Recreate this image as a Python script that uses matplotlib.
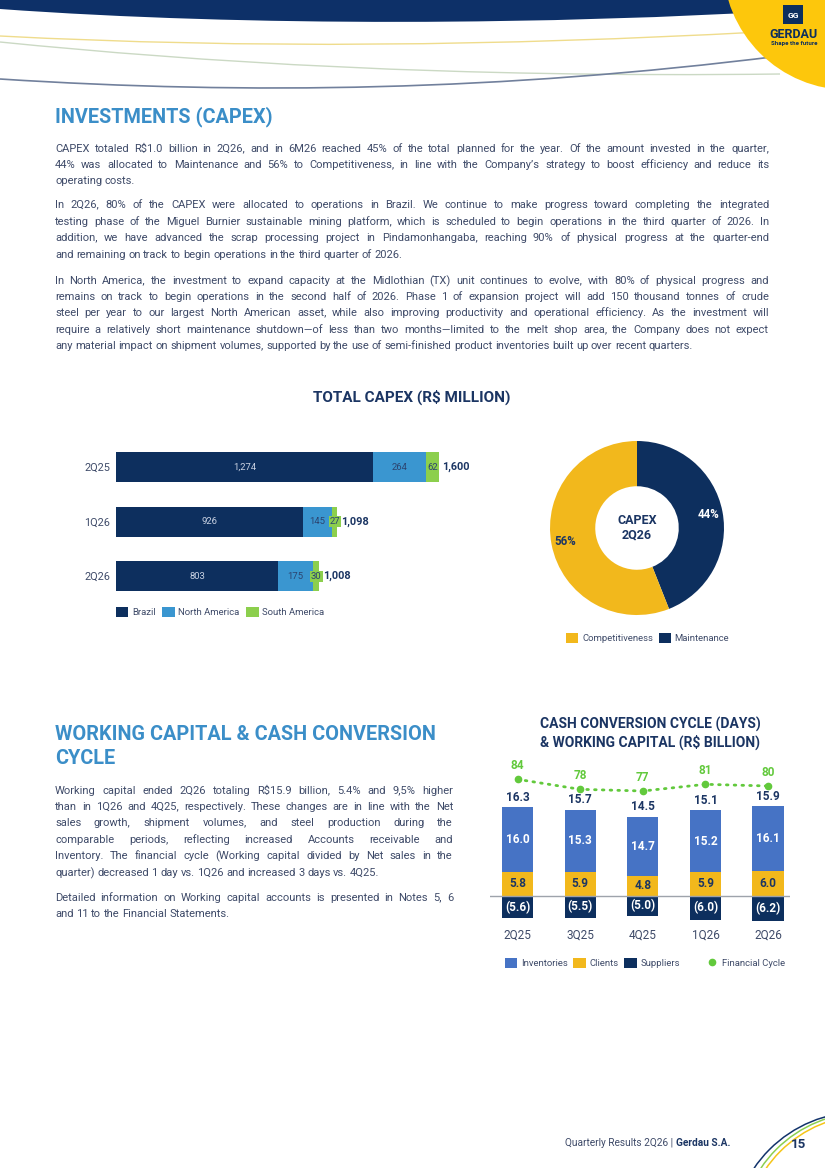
import math
import matplotlib.pyplot as plt
from matplotlib.patches import Circle, Rectangle, PathPatch
from matplotlib.path import Path
from matplotlib.lines import Line2D

W, H = 825, 1168

# ---- data ----
capex_periods = ['2Q25', '1Q26', '2Q26']
capex_brazil = [1274, 926, 803]
capex_north_america = [264, 145, 175]
capex_south_america = [62, 27, 30]
capex_totals = [1600, 1098, 1008]

split_labels = ['Maintenance', 'Competitiveness']
split_values = [44, 56]

wc_quarters = ['2Q25', '3Q25', '4Q25', '1Q26', '2Q26']
wc_inventories = [16.0, 15.3, 14.7, 15.2, 16.1]
wc_clients = [5.8, 5.9, 4.8, 5.9, 6.0]
wc_suppliers = [-5.6, -5.5, -5.0, -6.0, -6.2]
wc_totals = [16.3, 15.7, 14.5, 15.1, 15.9]
fin_cycle = [84, 78, 77, 81, 80]

para_capex = [
    ["CAPEX totaled R$1.0 billion in 2Q26, and in 6M26 reached 45% of the total planned for the year. Of the amount invested in the quarter,",
     "44% was allocated to Maintenance and 56% to Competitiveness, in line with the Company\u2019s strategy to boost efficiency and reduce its",
     "operating costs."],
    ["In 2Q26, 80% of the CAPEX were allocated to operations in Brazil. We continue to make progress toward completing the integrated",
     "testing phase of the Miguel Burnier sustainable mining platform, which is scheduled to begin operations in the third quarter of 2026. In",
     "addition, we have advanced the scrap processing project in Pindamonhangaba, reaching 90% of physical progress at the quarter-end",
     "and remaining on track to begin operations in the third quarter of 2026."],
    ["In North America, the investment to expand capacity at the Midlothian (TX) unit continues to evolve, with 80% of physical progress and",
     "remains on track to begin operations in the second half of 2026.  Phase 1 of expansion project will add 150 thousand tonnes of crude",
     "steel per year to our largest North American asset, while also improving productivity and operational efficiency. As the investment will",
     "require a relatively short maintenance shutdown\u2014of less than two months\u2014limited to the melt shop area, the Company does not expect",
     "any material impact on shipment volumes, supported by the use of semi-finished product inventories built up over recent quarters."],
]
para_wc = [
    ["Working capital ended 2Q26 totaling R$15.9 billion, 5.4% and 9,5% higher",
     "than in 1Q26 and 4Q25, respectively. These changes are in line with the Net",
     "sales growth, shipment volumes, and steel production during the",
     "comparable periods, reflecting increased Accounts receivable and",
     "Inventory. The financial cycle (Working capital divided by Net sales in the",
     "quarter) decreased 1 day vs. 1Q26 and increased 3 days vs. 4Q25."],
    ["Detailed information on Working capital accounts is presented in Notes 5, 6",
     "and 11 to the Financial Statements."],
]

NAVY = '#0d2f5e'
TITLE = '#1b3563'
HEAD = '#3b8ec8'
TEXT = '#3f4b69'
LBLUE = '#3a96d0'
GREEN = '#8ccf4d'
GOLD = '#f2b81c'
INV = '#4673c5'
CYC = '#62c93c'

plt.rcParams['font.family'] = ['Roboto', 'DejaVu Sans']

fig = plt.figure(figsize=(8.25, 11.68), dpi=100)
bg = fig.add_axes([0, 0, 1, 1])
bg.set_xlim(0, W)
bg.set_ylim(H, 0)
bg.axis('off')
rend = fig.canvas.get_renderer()


def px_axes(x0, y0, x1, y1):
    return fig.add_axes([x0 / W, 1 - y1 / H, (x1 - x0) / W, (y1 - y0) / H])


def curve(pts, **kw):
    codes = [Path.MOVETO] + [Path.CURVE4] * 3
    bg.add_patch(PathPatch(Path(pts, codes), fill=False, **kw))


def paragraph(lines, x0, x1, y, dy, **kw):
    # one text per word so the lines can be justified; the last line stays ragged
    for i, line in enumerate(lines):
        base = round(y + i * dy)
        words = line.split()
        ts = [bg.text(x0, base, w, va='baseline', **kw) for w in words]
        ws = [t.get_window_extent(rend).width for t in ts]
        gap = 2.6 if i == len(lines) - 1 else (x1 - x0 - sum(ws)) / (len(words) - 1)
        x = x0
        for t, w, word in zip(ts, ws, words):
            # agg snaps each word's bitmap on its own; shift so all words share one pixel baseline
            _, hh, d = rend.get_text_width_height_descent(word, t.get_fontproperties(), False)
            k = base + math.floor(hh) - math.floor(hh - d)
            t.set_position((x, k - d))
            x += w + gap


# header decoration
band = Path([(0, 0), (0, 9), (250, 27), (550, 25), (800, 10), (800, 0), (0, 0)],
            [Path.MOVETO, Path.LINETO, Path.CURVE4, Path.CURVE4, Path.CURVE4,
             Path.LINETO, Path.CLOSEPOLY])
bg.add_patch(PathPatch(band, fc='#0d3068', ec='none'))
curve([(0, 36), (250, 49), (500, 46), (760, 32)], ec='#efdc8c', lw=1)
curve([(0, 42), (200, 62), (450, 78), (780, 74)], ec='#cbd9c4', lw=1)
curve([(0, 79), (250, 95), (500, 91), (780, 56)], ec='#71809c', lw=1.2)
bg.add_patch(Circle((849, -36), 126, fc='#fdc70c', ec='none'))
bg.add_patch(Rectangle((783, 5), 20, 19, fc=NAVY, ec='none'))
bg.text(793, 15, 'GG', color='white', fontsize=6, fontweight='bold', ha='center', va='center')
bg.text(794, 34, 'GERDAU', color=NAVY, fontsize=9, fontweight='bold', ha='center', va='center')
bg.text(794, 44, 'Shape the future', color=NAVY, fontsize=4.4, fontweight='bold', ha='center', va='center')

# section texts
bg.text(55, 117, 'INVESTMENTS (CAPEX)', color=HEAD, fontsize=14.3, fontweight='bold', va='center')
for lines, y0 in zip(para_capex, [151.5, 208.5, 283.5]):
    paragraph(lines, 55, 769, y0, 16.35, color=TEXT, fontsize=8.0)

bg.text(55, 735, 'WORKING CAPITAL & CASH CONVERSION', color=HEAD, fontsize=14.3, fontweight='bold', va='center')
bg.text(55, 758, 'CYCLE', color=HEAD, fontsize=14.3, fontweight='bold', va='center')
for lines, y0 in zip(para_wc, [793.5, 901]):
    paragraph(lines, 55, 453, y0, 16.45, color=TEXT, fontsize=8.0)

# footer
bold_part = bg.text(730, 1143, 'Gerdau S.A.', color=TITLE, fontsize=7.3, fontweight='bold', ha='right', va='center')
bw = bold_part.get_window_extent(rend).width
bg.text(730 - bw, 1143, 'Quarterly Results 2Q26 | ', color=TEXT, fontsize=7.3, ha='right', va='center')
bg.text(799, 1144, '15', color=TITLE, fontsize=9.5, fontweight='bold', ha='center', va='center')
bg.add_patch(Circle((860, 1240), 128, fill=False, ec='#12336b', lw=1.1))
bg.add_patch(Circle((865, 1238), 125.4, fill=False, ec='#8dcf50', lw=1.1))
bg.add_patch(Circle((868, 1239), 124, fill=False, ec='#f5c518', lw=1.1))

# ---- CAPEX bars ----
bg.text(412, 397, 'TOTAL CAPEX (R$ MILLION)', color=TITLE, fontsize=11, fontweight='bold', ha='center', va='center')
ax = px_axes(116, 440, 516, 603.5)
yy = list(range(len(capex_periods)))
h = 0.55
left_na = capex_brazil
left_sa = [b + n for b, n in zip(capex_brazil, capex_north_america)]
ax.barh(yy, capex_brazil, height=h, color=NAVY)
ax.barh(yy, capex_north_america, left=left_na, height=h, color=LBLUE)
ax.barh(yy, capex_south_america, left=left_sa, height=h, color=GREEN)
for i in yy:
    ax.text(capex_brazil[i] / 2, i, f'{capex_brazil[i]:,}', color='#c9d2e3', fontsize=6.8, ha='center', va='center')
    ax.text(left_na[i] + capex_north_america[i] / 2, i, f'{capex_north_america[i]:,}', color='#2c4470',
            fontsize=6.8, ha='center', va='center')
    ax.text(left_sa[i] + capex_south_america[i] / 2, i, f'{capex_south_america[i]:,}', color='#2c4470',
            fontsize=6.8, ha='center', va='center',
            bbox=dict(boxstyle='square,pad=0.1', fc=GREEN, ec='none'))
    ax.text(capex_totals[i] + 18, i, f'{capex_totals[i]:,}', color=TITLE, fontsize=7.8,
            fontweight='bold', ha='left', va='center')
ax.set_xlim(0, 1983)
ax.set_ylim(2.5, -0.5)
ax.set_yticks(yy, capex_periods)
ax.set_xticks([])
ax.tick_params(axis='y', length=0, pad=4, labelsize=7.8, labelcolor=TEXT)
for s in ax.spines.values():
    s.set_visible(False)
fig.legend([Rectangle((0, 0), 1, 1, fc=c) for c in (NAVY, LBLUE, GREEN)],
           ['Brazil', 'North America', 'South America'],
           loc='center left', bbox_to_anchor=(116 / W, 1 - 612 / H), ncol=3, frameon=False,
           fontsize=6.8, labelcolor=TEXT, handlelength=1.3, handleheight=1.3,
           handletextpad=0.4, columnspacing=0.7, borderpad=0, borderaxespad=0)

# ---- CAPEX donut ----
pax = px_axes(550, 441, 724, 615)
wedges, _, pct = pax.pie(split_values, colors=[NAVY, GOLD], startangle=90, counterclock=False,
                         autopct='%d%%', pctdistance=0.84,
                         wedgeprops=dict(width=0.52, linewidth=0),
                         textprops=dict(fontsize=8.3, fontweight='bold'))
pct[0].set_color('white')
pct[1].set_color(TITLE)
pax.set_xlim(-1, 1)
pax.set_ylim(-1, 1)
pax.text(0, 0, 'CAPEX\n2Q26', ha='center', va='center', color=TITLE, fontsize=9,
         fontweight='bold', linespacing=1.1)
fig.legend([Rectangle((0, 0), 1, 1, fc=c) for c in (GOLD, NAVY)],
           ['Competitiveness', 'Maintenance'],
           loc='center left', bbox_to_anchor=(566 / W, 1 - 638 / H), ncol=2, frameon=False,
           fontsize=6.8, labelcolor=TEXT, handlelength=1.3, handleheight=1.3,
           handletextpad=0.4, columnspacing=0.6, borderpad=0, borderaxespad=0)

# ---- working capital ----
bg.text(650, 724, 'CASH CONVERSION CYCLE (DAYS)', color=TITLE, fontsize=10, fontweight='bold', ha='center', va='center')
bg.text(650, 742, '& WORKING CAPITAL (R$ BILLION)', color=TITLE, fontsize=10, fontweight='bold', ha='center', va='center')
wax = px_axes(490, 760, 790, 922)
xs = list(range(len(wc_quarters)))
bw_ = 0.5
wax.bar(xs, wc_clients, width=bw_, color=GOLD)
wax.bar(xs, wc_inventories, bottom=wc_clients, width=bw_, color=INV)
wax.bar(xs, wc_suppliers, width=bw_, color=NAVY)
wax.axhline(0, color='#9ea3ab', lw=1, zorder=3)
for i in xs:
    top = wc_clients[i] + wc_inventories[i]
    wax.text(i, wc_clients[i] + wc_inventories[i] / 2, f'{wc_inventories[i]:.1f}', color='white',
             fontsize=8.5, fontweight='bold', ha='center', va='center')
    wax.text(i, wc_clients[i] / 2, f'{wc_clients[i]:.1f}', color=TITLE,
             fontsize=8.5, fontweight='bold', ha='center', va='center')
    wax.text(i, wc_suppliers[i] / 2, f'({-wc_suppliers[i]:.1f})', color='white',
             fontsize=8.5, fontweight='bold', ha='center', va='center')
    wax.annotate(f'{wc_totals[i]:.1f}', (i, top), xytext=(0, 2.5), textcoords='offset points',
                 color=TITLE, fontsize=8.5, fontweight='bold', ha='center', va='bottom')
wax.set_xlim(-0.44, 4.35)
wax.set_ylim(-6.49, 33.5)
wax.set_xticks(xs, wc_quarters)
wax.set_yticks([])
wax.tick_params(axis='x', length=0, pad=5, labelsize=8.5, labelcolor=TEXT)
for s in wax.spines.values():
    s.set_visible(False)
cax = wax.twinx()
cax.plot(xs, fin_cycle, color=CYC, lw=2, linestyle=(0, (0.6, 2.2)), dash_capstyle='round',
         marker='o', ms=4.5)
for i in xs:
    cax.annotate(f'{fin_cycle[i]}', (i, fin_cycle[i]), xytext=(0, 5), textcoords='offset points',
                 color=CYC, fontsize=8.5, fontweight='bold', ha='center', va='bottom')
cax.set_ylim(-1.45, 95.56)
cax.set_yticks([])
for s in cax.spines.values():
    s.set_visible(False)
fig.legend([Rectangle((0, 0), 1, 1, fc=c) for c in (INV, GOLD, NAVY)],
           ['Inventories', 'Clients', 'Suppliers'],
           loc='center left', bbox_to_anchor=(505 / W, 1 - 963 / H), ncol=3, frameon=False,
           fontsize=6.8, labelcolor=TEXT, handlelength=1.3, handleheight=1.3,
           handletextpad=0.4, columnspacing=0.6, borderpad=0, borderaxespad=0)
fig.legend([Line2D([], [], color=CYC, marker='o', ls='none', ms=4.5)], ['Financial Cycle'],
           loc='center left', bbox_to_anchor=(706 / W, 1 - 963 / H), frameon=False,
           fontsize=6.8, labelcolor=TEXT, handlelength=1.3, handletextpad=0.4,
           borderpad=0, borderaxespad=0)

fig.savefig('out.png', dpi=100)
